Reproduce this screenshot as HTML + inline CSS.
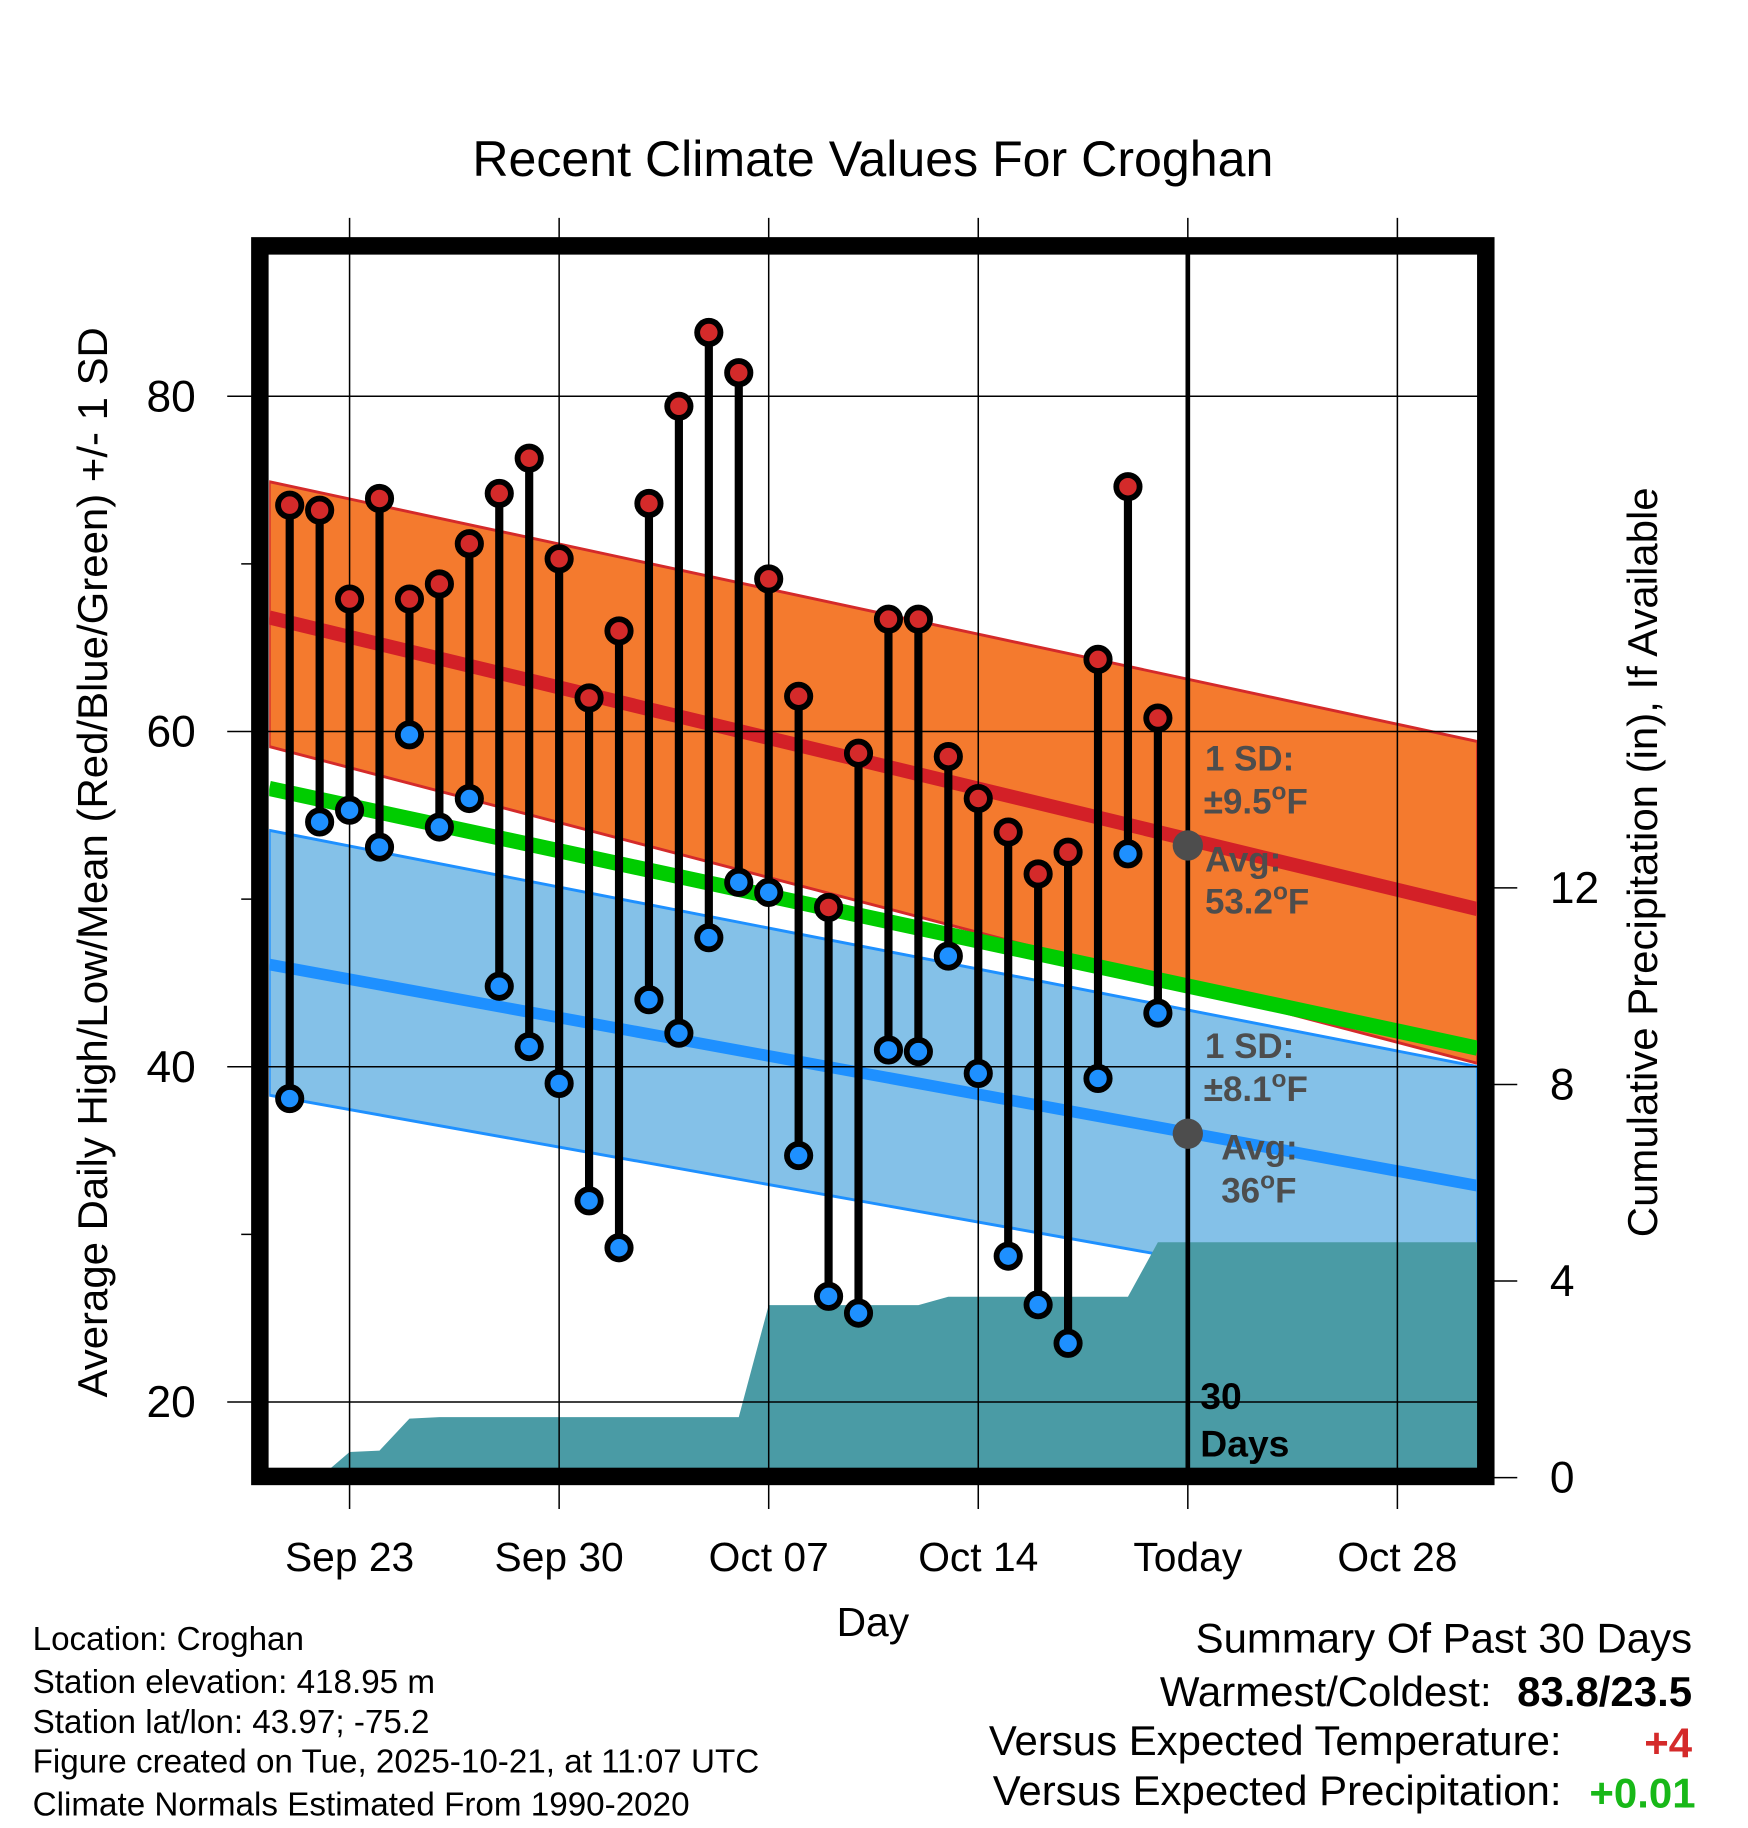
<!DOCTYPE html>
<html><head><meta charset="utf-8"><style>
html,body{margin:0;padding:0;background:#fff;}
svg{display:block;font-family:"Liberation Sans",Arial,sans-serif;}
</style></head><body>
<svg id="chart" width="1748" height="1828" viewBox="0 0 1500 1568.7" preserveAspectRatio="none" xmlns="http://www.w3.org/2000/svg">
<text x="749" y="151" font-size="43" text-anchor="middle">Recent Climate Values For Croghan</text>
<g id="plot"></g>
<text transform="translate(92,740) rotate(-90)" font-size="36" text-anchor="middle">Average Daily High/Low/Mean (Red/Blue/Green) +/- 1 SD</text>
<text transform="translate(1422,740) rotate(-90)" font-size="36" text-anchor="middle">Cumulative Precipitation (in), If Available</text>
<text x="749" y="1404" font-size="35" text-anchor="middle">Day</text>
<g font-size="28.5">
<text x="28" y="1416">Location: Croghan</text>
<text x="28" y="1453">Station elevation: 418.95 m</text>
<text x="28" y="1487">Station lat/lon: 43.97; -75.2</text>
<text x="28" y="1521">Figure created on Tue, 2025-10-21, at 11:07 UTC</text>
<text x="28" y="1558">Climate Normals Estimated From 1990-2020</text>
</g>
<g font-size="36" text-anchor="end">
<text x="1452" y="1418">Summary Of Past 30 Days</text>
<text x="1280" y="1464">Warmest/Coldest:</text>
<text x="1452" y="1464" font-weight="bold">83.8/23.5</text>
<text x="1340" y="1506">Versus Expected Temperature:</text>
<text x="1452" y="1508" font-weight="bold" fill="#d42a2a">+4</text>
<text x="1340" y="1549">Versus Expected Precipitation:</text>
<text x="1455" y="1551" font-weight="bold" fill="#18b818">+0.01</text>
</g>
</svg>
<script>
const days = ["Sep 21","Sep 22","Sep 23","Sep 24","Sep 25","Sep 26","Sep 27","Sep 28","Sep 29","Sep 30","Oct 01","Oct 02","Oct 03","Oct 04","Oct 05","Oct 06","Oct 07","Oct 08","Oct 09","Oct 10","Oct 11","Oct 12","Oct 13","Oct 14","Oct 15","Oct 16","Oct 17","Oct 18","Oct 19","Oct 20"];
const highs = [73.5,73.2,67.9,73.9,67.9,68.8,71.2,74.2,76.3,70.3,62.0,66.0,73.6,79.4,83.8,81.4,69.1,62.1,49.5,58.7,66.7,66.7,58.5,56.0,54.0,51.5,52.8,64.3,74.6,60.8];
const lows = [38.1,54.6,55.3,53.1,59.8,54.3,56.0,44.8,41.2,39.0,32.0,29.2,44.0,42.0,47.7,51.0,50.4,34.7,26.3,25.3,41.0,40.9,46.6,39.6,28.7,25.8,23.5,39.3,52.7,43.2];
const precip = [0,0,0.52,0.55,1.2,1.23,1.23,1.23,1.23,1.23,1.23,1.23,1.23,1.23,1.23,1.23,3.51,3.51,3.51,3.51,3.51,3.51,3.68,3.68,3.68,3.68,3.68,3.68,3.68,4.79];
// normals at left edge / right edge of plot
const normHighStart = 66.8, normHighEnd = 49.4;
const sdHighUpper = [8.1, 10.0], sdHighLower = [7.7, 9.2];
const normMeanStart = 56.6, normMeanEnd = 41.1;
const normLowStart = 46.1, normLowEnd = 32.9;
const sdLowUpper = [8.0, 7.1], sdLowLower = [7.8, 7.5];
const xTickLabels = ["Sep 23","Sep 30","Oct 07","Oct 14","Today","Oct 28"];
const xTickDays = [2,9,16,23,30,37];
const yTicks = [20,40,60,80];
const y2Ticks = [0,4,8,12];

const L=231,R=1268,T=218,B=1260;
const x = d => 248.6 + d*25.69;
const y = v => 340 + (80 - v)*14.385;
const yp = p => 1268 - p*42.17;
const dL = (L-248.6)/25.69, dR = (R-248.6)/25.69;
const NS="http://www.w3.org/2000/svg";
const g=document.getElementById('plot');
function mk(tag,attrs,parent){const e=document.createElementNS(NS,tag);for(const k in attrs)e.setAttribute(k,attrs[k]);(parent||g).appendChild(e);return e;}

const defs=mk('defs',{});const cp=mk('clipPath',{id:'pc'},defs);mk('rect',{x:L,y:T,width:R-L,height:B-T},cp);
const cg=mk('g',{'clip-path':'url(#pc)'});
function band(s,e,up,lo,fill,stroke){
  const pts=[[dL,s+up[0]],[dR,e+up[1]],[dR,e-lo[1]],[dL,s-lo[0]]];
  return mk('polygon',{points:pts.map(p=>x(p[0])+','+y(p[1])).join(' '),fill:fill,stroke:stroke,'stroke-width':2.5},cg);
}
let e;
e=band(normLowStart,normLowEnd,sdLowUpper,sdLowLower,'#84c1e8','#1e90ff');


e=band(normHighStart,normHighEnd,sdHighUpper,sdHighLower,'#f47a2e','#d42a2a');


function nline(s,e2,col,w,name){const l=mk('line',{x1:x(dL),y1:y(s),x2:x(dR),y2:y(e2),stroke:col,'stroke-width':w},cg);

}
nline(normMeanStart,normMeanEnd,'#00cc00',13,'normal-mean-line');
nline(normHighStart,normHighEnd,'#d32027',12,'normal-high-line');
nline(normLowStart,normLowEnd,'#1e90ff',10,'normal-low-line');

let pp=[[x(1),yp(0)]];
precip.forEach((p,i)=>pp.push([x(i),yp(p)]));
pp.push([R,yp(precip[precip.length-1])]);pp.push([R,B+10]);pp.push([x(1),B+10]);
e=mk('polygon',{points:pp.map(p=>p.join(',')).join(' '),fill:'#4a9ba5'},cg);



xTickDays.forEach(d=>{mk('line',{x1:x(d),y1:187,x2:x(d),y2:1295,stroke:'#000','stroke-width':1.3});});
yTicks.forEach(v=>{mk('line',{x1:195,y1:y(v),x2:R,y2:y(v),stroke:'#000','stroke-width':1.3});});
[30,50,70].forEach(v=>mk('line',{x1:207,y1:y(v),x2:223,y2:y(v),stroke:'#000','stroke-width':1.3}));
y2Ticks.forEach(p=>mk('line',{x1:1275,y1:yp(p),x2:1302,y2:yp(p),stroke:'#000','stroke-width':1.3}));

mk('line',{x1:x(30),y1:211,x2:x(30),y2:1262,stroke:'#000','stroke-width':4});

const lab=mk('g',{fill:'#4d4d4d','font-size':30,'font-weight':'bold'});


function t(xx,yy,s,par){const te=mk('text',{x:xx,y:yy},par||lab);te.innerHTML=s;return te;}
t(1034,661,'1 SD:');t(1033,698,'±9.5<tspan dy="-12" font-size="21">o</tspan><tspan dy="12">F</tspan>');
t(1034,748,'Avg:');t(1034,784,'53.2<tspan dy="-12" font-size="21">o</tspan><tspan dy="12">F</tspan>');
t(1034,908,'1 SD:');t(1033,945,'±8.1<tspan dy="-12" font-size="21">o</tspan><tspan dy="12">F</tspan>');
t(1048,995,'Avg:');t(1048,1032,'36<tspan dy="-12" font-size="21">o</tspan><tspan dy="12">F</tspan>');
mk('circle',{cx:x(30),cy:y(53.2),r:13,fill:'#4d4d4d'});
mk('circle',{cx:x(30),cy:y(36),r:13,fill:'#4d4d4d'});
const dl=mk('g',{'font-size':32,'font-weight':'bold'});


t(1030,1209,'30',dl);t(1030,1250,'Days',dl);

highs.forEach((h,i)=>{
  const s=mk('line',{x1:x(i),y1:y(h),x2:x(i),y2:y(lows[i]),stroke:'#000','stroke-width':7});
  
  
});
highs.forEach((h,i)=>{
  const c=mk('circle',{cx:x(i),cy:y(h),r:10,fill:'#d42a2a',stroke:'#000','stroke-width':5});
  
  
  const c2=mk('circle',{cx:x(i),cy:y(lows[i]),r:10,fill:'#1e90ff',stroke:'#000','stroke-width':5});
  
  
});

const fr=mk('rect',{x:223,y:211,width:1052,height:1056,fill:'none',stroke:'#000','stroke-width':15});



xTickLabels.forEach((s,i)=>{const te=mk('text',{x:x(xTickDays[i]),y:1348,'font-size':35,'text-anchor':'middle'});te.textContent=s;

});
yTicks.forEach(v=>{const te=mk('text',{x:168,y:y(v)+13,'font-size':38,'text-anchor':'end'});te.textContent=v;

});
y2Ticks.forEach(p=>{const te=mk('text',{x:1330,y:yp(p)+13,'font-size':38});te.textContent=p;

});
</script>
</body></html>
